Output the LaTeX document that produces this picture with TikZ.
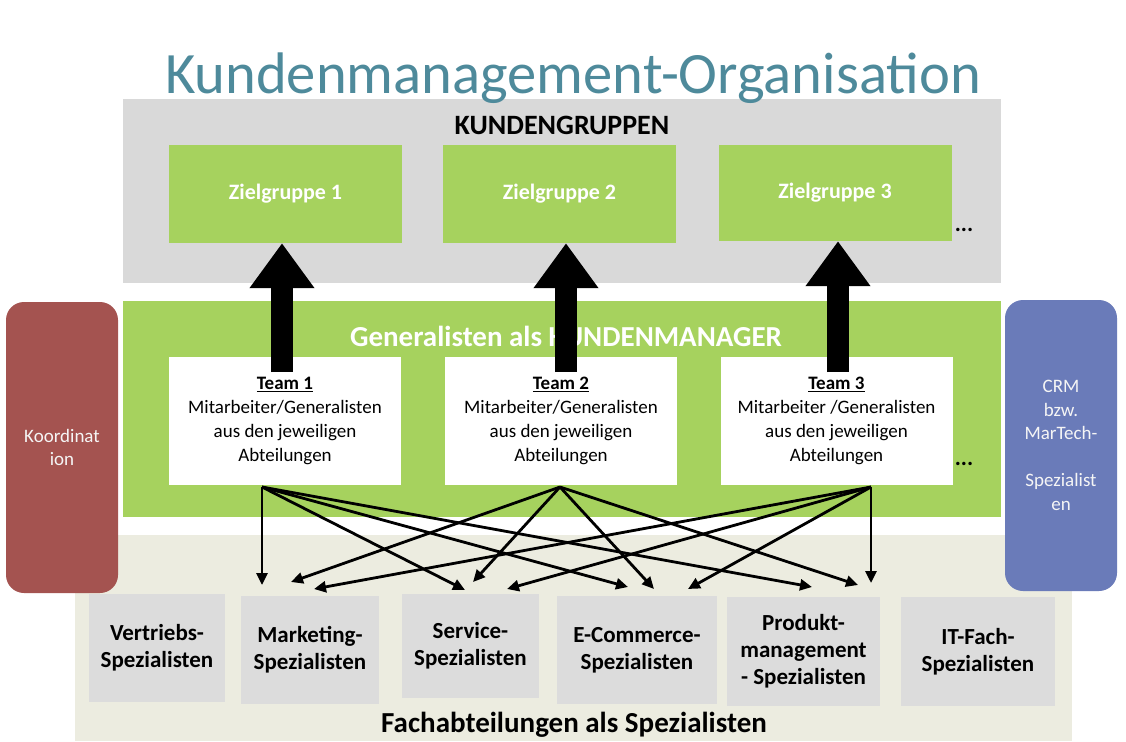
\documentclass[tikz,border=0pt]{standalone}
\usepackage{fontspec}
\setmainfont{Carlito}
\usepackage{tikz}
\usetikzlibrary{arrows.meta,positioning,calc}
\definecolor{titelblau}{HTML}{4E8A9B}
\definecolor{gruppengrau}{HTML}{D9D9D9}
\definecolor{zielgruen}{HTML}{A6D25E}
\definecolor{fachbeige}{HTML}{ECECE0}
\definecolor{fachgrau}{HTML}{DCDCDC}
\definecolor{koordrot}{HTML}{A45350}
\definecolor{crmblau}{HTML}{6A7BB9}
\tikzset{
  zielbox/.style={rectangle, fill=zielgruen, minimum width=233pt, minimum height=98pt,
                  text=white, font=\bfseries\fontsize{22}{26}\selectfont},
  teambox/.style={rectangle, fill=white, minimum width=232pt, minimum height=128pt,
                  align=center, font=\fontsize{19}{24}\selectfont},
  fachbox/.style={rectangle, fill=fachgrau, minimum height=108pt, align=center,
                  font=\bfseries\fontsize{23}{27}\selectfont},
  seitenbox/.style={rectangle, rounded corners=18pt, fill=#1, minimum width=112pt,
                    minimum height=291pt, align=center, text=white!96!black,
                    font=\fontsize{19}{23.5}\selectfont},
  pfeil/.style={-{Triangle[length=12pt,width=11pt]}, line width=2.8pt},
  grosspfeil/.style={-{Triangle[length=45pt,width=62pt]}, line width=22pt},
}
\begin{document}
\begin{tikzpicture}[x=1pt, y=-1pt]
  \useasboundingbox (0,0) rectangle (1126,741);
  % Hintergruende
  \fill[fachbeige] (75,535) rectangle (1072,741);
  \fill[gruppengrau] (123,99) rectangle (1001,283);
  \fill[zielgruen] (123,301) rectangle (1001,517);
  \node[seitenbox=koordrot] (koord) at (62,447.5) {Koordinat\\ion};
  \node[seitenbox=crmblau] (crm) at (1061,445.5) {CRM\\bzw.\\MarTech-\\[23.5pt]Spezialist\\en};
  % Titel und Ueberschriften
  \node[text=titelblau, font=\fontsize{58.6}{66}\selectfont] (titel) at (573,78) {Kundenmanagement-Organisation};
  \node[font=\bfseries\fontsize{28}{32}\selectfont] (kunden) at (562,125) {KUNDENGRUPPEN};
  \node[text=white, font=\bfseries\fontsize{29}{33}\selectfont] (general) at (566,336) {Generalisten als KUNDENMANAGER};
  \node[font=\bfseries\fontsize{29}{33}\selectfont] (fach) at (574,725) {Fachabteilungen als Spezialisten};
  % Zielgruppen
  \node[zielbox] (z1) at (285.5,194) {Zielgruppe 1};
  \node[zielbox] (z2) at (559.5,194) {Zielgruppe 2};
  \node[zielbox, minimum height=96pt] (z3) at (835,193) {Zielgruppe 3};
  \node[font=\bfseries\fontsize{23}{26}\selectfont] (mehrz) at (964,230) {...};
  % Teams
  \node[teambox] (team1) at (285,421) {\underline{\textbf{Team 1}}\\Mitarbeiter/Generalisten\\aus den jeweiligen\\Abteilungen};
  \node[teambox] (team2) at (561,421) {\underline{\textbf{Team 2}}\\Mitarbeiter/Generalisten\\aus den jeweiligen\\Abteilungen};
  \node[teambox] (team3) at (836.5,421) {\underline{\textbf{Team 3}}\\Mitarbeiter /Generalisten\\aus den jeweiligen\\Abteilungen};
  \node[font=\bfseries\fontsize{23}{26}\selectfont] (mehrt) at (964,464) {...};
  % Fachabteilungen
  \node[fachbox, minimum width=136pt] (vertrieb) at (157,648) {Vertriebs-\\Spezialisten};
  \node[fachbox, minimum width=138pt] (marketing) at (310,650) {Marketing-\\Spezialisten};
  \node[fachbox, minimum width=137pt, minimum height=104pt] (service) at (470.5,646) {Service-\\Spezialisten};
  \node[fachbox, minimum width=160pt] (ecom) at (637,650) {E-Commerce-\\Spezialisten};
  \node[fachbox, minimum width=153pt, minimum height=109pt] (produkt) at (803.5,651.5) {Produkt-\\management\\- Spezialisten};
  \node[fachbox, minimum width=154pt, minimum height=109pt] (itfach) at (978,651.5) {IT-Fach-\\Spezialisten};
  % grosse Pfeile
  \coordinate (g1) at (282,372); \coordinate (g2) at (566,372); \coordinate (g3) at (838,372);
  \draw[grosspfeil] (g1) -- (g1 |- z1.south);
  \draw[grosspfeil] (g2) -- (g2 |- z2.south);
  \draw[grosspfeil] (g3) -- (g3 |- z3.south);
  % Verbindungen Teams -> Fachabteilungen
  \coordinate (s1) at (262,487); \coordinate (s2) at (560,487); \coordinate (s3) at (871,487);
  \coordinate (a1) at (262,585); \coordinate (a2) at (465,590);
  \coordinate (a3) at (628,587); \coordinate (a4) at (812,587);
  \coordinate (b1) at (291,582); \coordinate (b2) at (473,582);
  \coordinate (b3) at (654,589); \coordinate (b4) at (858,585);
  \coordinate (c1) at (871,583); \coordinate (c2) at (314,589);
  \coordinate (c3) at (507,589); \coordinate (c4) at (688,589);
  \draw[pfeil] (s1) -- (a1); \draw[pfeil] (s1) -- (a2); \draw[pfeil] (s1) -- (a3); \draw[pfeil] (s1) -- (a4);
  \draw[pfeil] (s2) -- (b1); \draw[pfeil] (s2) -- (b2); \draw[pfeil] (s2) -- (b3); \draw[pfeil] (s2) -- (b4);
  \draw[pfeil] (s3) -- (c1); \draw[pfeil] (s3) -- (c2); \draw[pfeil] (s3) -- (c3); \draw[pfeil] (s3) -- (c4);
\end{tikzpicture}
\end{document}
